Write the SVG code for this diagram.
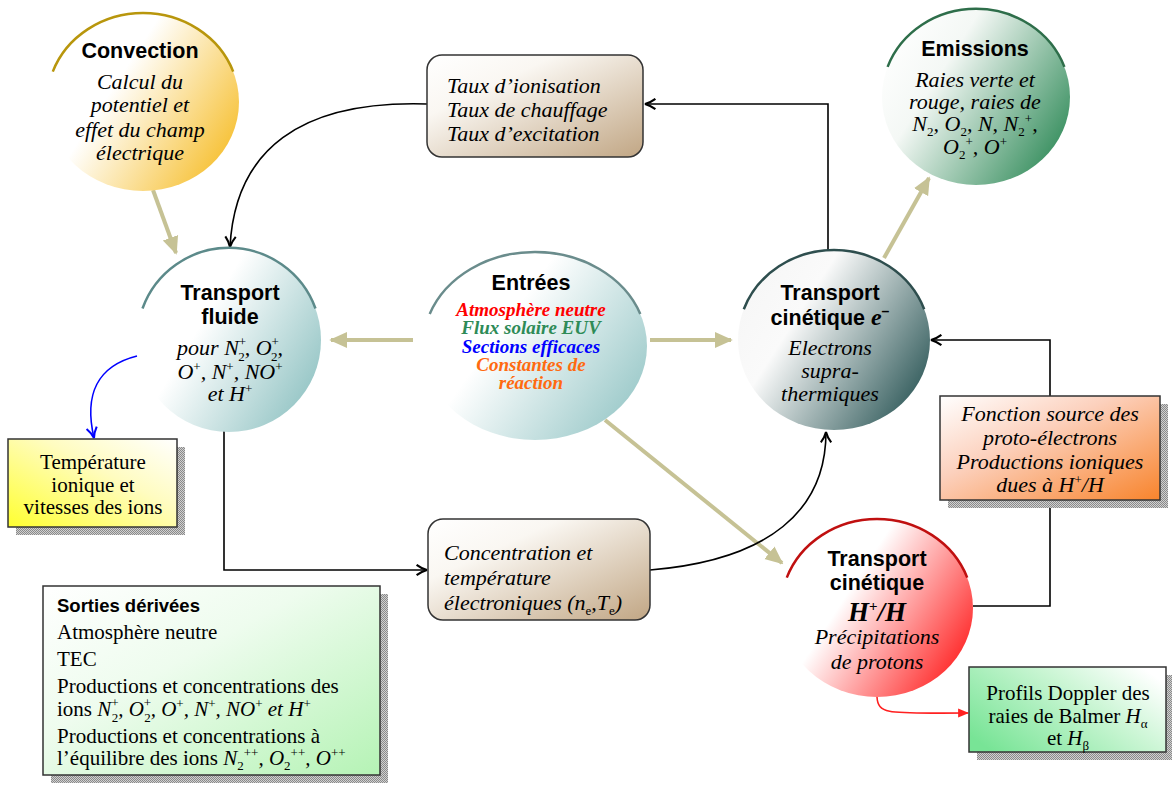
<svg xmlns="http://www.w3.org/2000/svg" width="1172" height="785" viewBox="0 0 1172 785">
<style>
.h{font-family:"Liberation Sans",Arial,sans-serif;font-weight:bold;font-size:21.5px;text-anchor:middle;fill:#000}
.it{font-family:"Liberation Serif","DejaVu Serif",serif;font-style:italic;font-size:22px;text-anchor:middle;fill:#000}
.itl{font-family:"Liberation Serif","DejaVu Serif",serif;font-style:italic;font-size:22px;fill:#000}
.rm{font-family:"Liberation Serif","DejaVu Serif",serif;font-size:21px;text-anchor:middle;fill:#000}
.rml{font-family:"Liberation Serif","DejaVu Serif",serif;font-size:21px;fill:#000}
.en{font-family:"Liberation Serif","DejaVu Serif",serif;font-style:italic;font-weight:bold;font-size:19px;text-anchor:middle}
.sp{font-size:13px;font-style:normal}
.sb{font-size:13px;font-style:normal}
.box{stroke:#333;stroke-width:1.5}
.k{fill:none;stroke:#c6c295;stroke-width:4}
.b{fill:none;stroke:#000;stroke-width:1.6}
</style>
<defs>
<pattern id="shade" width="2" height="2" patternUnits="userSpaceOnUse"><rect width="2" height="2" fill="#d0d0d0"/><rect width="1" height="1" fill="#8a8a8a"/><rect x="1" y="1" width="1" height="1" fill="#8a8a8a"/></pattern>
<linearGradient id="gConv" x1="0" y1="0.2" x2="1" y2="0.8"><stop offset="0" stop-color="#fff"/><stop offset="0.35" stop-color="#fff"/><stop offset="1" stop-color="#f6bd28"/></linearGradient>
<linearGradient id="gEmi" x1="0" y1="0.2" x2="1" y2="0.8"><stop offset="0" stop-color="#fff"/><stop offset="0.3" stop-color="#f4f8f5"/><stop offset="1" stop-color="#2f8a58"/></linearGradient>
<linearGradient id="gFl" x1="0" y1="0.2" x2="1" y2="0.8"><stop offset="0" stop-color="#fff"/><stop offset="0.35" stop-color="#fff"/><stop offset="1" stop-color="#8fc2c2"/></linearGradient>
<linearGradient id="gEn" x1="0" y1="0.2" x2="1" y2="0.8"><stop offset="0" stop-color="#fff"/><stop offset="0.35" stop-color="#fff"/><stop offset="1" stop-color="#97c7c7"/></linearGradient>
<linearGradient id="gE" x1="0" y1="0.2" x2="1" y2="0.8"><stop offset="0" stop-color="#f6f6f6"/><stop offset="0.3" stop-color="#fafafa"/><stop offset="1" stop-color="#2b5656"/></linearGradient>
<linearGradient id="gH" x1="0" y1="0.2" x2="1" y2="0.8"><stop offset="0" stop-color="#fff"/><stop offset="0.35" stop-color="#fff"/><stop offset="1" stop-color="#ff1c1c"/></linearGradient>
<linearGradient id="gTan" x1="0" y1="0" x2="1" y2="1"><stop offset="0" stop-color="#fff"/><stop offset="0.3" stop-color="#faf7f2"/><stop offset="1" stop-color="#c1a684"/></linearGradient>
<linearGradient id="gOr" x1="0" y1="0" x2="1" y2="1"><stop offset="0" stop-color="#fff"/><stop offset="0.4" stop-color="#fcd0bc"/><stop offset="1" stop-color="#f8842c"/></linearGradient>
<linearGradient id="gYe" x1="0" y1="1" x2="1" y2="0"><stop offset="0" stop-color="#ffff30"/><stop offset="0.6" stop-color="#fffcc0"/><stop offset="1" stop-color="#fff"/></linearGradient>
<linearGradient id="gGr" x1="0" y1="0" x2="1" y2="1"><stop offset="0" stop-color="#fff"/><stop offset="0.4" stop-color="#eefcee"/><stop offset="1" stop-color="#b5f3b5"/></linearGradient>
<linearGradient id="gPr" x1="0" y1="0.8" x2="1" y2="0.2"><stop offset="0" stop-color="#78e496"/><stop offset="0.6" stop-color="#c8f5d2"/><stop offset="1" stop-color="#fff"/></linearGradient>
<marker id="mk" viewBox="0 0 10 10" refX="9" refY="5" markerWidth="18" markerHeight="18" markerUnits="userSpaceOnUse" orient="auto"><path d="M0,0.5 L10,5 L0,9.5 Z" fill="#c6c295"/></marker>
<marker id="mb" viewBox="0 0 10 10" refX="9" refY="5" markerWidth="13" markerHeight="13" markerUnits="userSpaceOnUse" orient="auto"><path d="M1,1 Q5,4 9,5 Q5,6 1,9" fill="none" stroke="#000" stroke-width="1.6"/></marker>
<marker id="mbl" viewBox="0 0 10 10" refX="9" refY="5" markerWidth="13" markerHeight="13" markerUnits="userSpaceOnUse" orient="auto"><path d="M1,1 Q5,4 9,5 Q5,6 1,9" fill="none" stroke="#0000ff" stroke-width="1.6"/></marker>
<marker id="mr" viewBox="0 0 10 10" refX="9" refY="5" markerWidth="11" markerHeight="11" markerUnits="userSpaceOnUse" orient="auto"><path d="M0,1 L10,5 L0,9 Z" fill="#ff2020"/></marker>
</defs>
<rect width="1172" height="785" fill="#fff"/>

<g id="connectors">
<line class="k" x1="153" y1="190" x2="176" y2="253" marker-end="url(#mk)"/>
<line class="k" x1="884" y1="258" x2="929" y2="178" marker-end="url(#mk)"/>
<line class="k" x1="413" y1="340" x2="331" y2="340" marker-end="url(#mk)"/>
<line class="k" x1="650" y1="340" x2="731" y2="340" marker-end="url(#mk)"/>
<line class="k" x1="605" y1="420" x2="782" y2="563" marker-end="url(#mk)"/>
<path class="b" d="M427,104 C300,100 235,150 230,247" marker-end="url(#mb)"/>
<path class="b" d="M828,250 L828,104 L645,104" marker-end="url(#mb)"/>
<path class="b" d="M224,431 L224,570 L427,570" marker-end="url(#mb)"/>
<path class="b" d="M650,570 C770,560 826,510 826,432" marker-end="url(#mb)"/>
<path class="b" d="M973,606 L1050,606 L1050,340 L931,340" marker-end="url(#mb)"/>
<path fill="none" stroke="#0000ff" stroke-width="1.6" d="M137,356 C97,366 84,395 94,438" marker-end="url(#mbl)"/>
<path fill="none" stroke="#ff2020" stroke-width="1.6" d="M877,697 C878,716 892,713 968,713" marker-end="url(#mr)"/>
</g>

<g id="convection">
<ellipse cx="143" cy="102" rx="96" ry="89" fill="url(#gConv)"/>
<path d="M52.8,71.6 A96,89 0 0 1 233.2,71.6" fill="none" stroke="#b8960c" stroke-width="2.5"/>
<text class="h" x="140" y="58">Convection</text>
<text class="it" x="140" y="89">Calcul du</text>
<text class="it" x="140" y="112">potentiel et</text>
<text class="it" x="140" y="137">effet du champ</text>
<text class="it" x="140" y="160">électrique</text>
</g>

<g id="emissions">
<ellipse cx="976" cy="97" rx="94" ry="88" fill="url(#gEmi)"/>
<path d="M887.6,66.9 A94,88 0 0 1 1064.4,66.9" fill="none" stroke="#2e6e4a" stroke-width="2.5"/>
<text class="h" x="975" y="56">Emissions</text>
<text class="it" x="975" y="87">Raies verte et</text>
<text class="it" x="975" y="109">rouge, raies de</text>
<text class="it" x="975" y="131">N<tspan class="sb" baseline-shift="-5">2</tspan>, O<tspan class="sb" baseline-shift="-5">2</tspan>, N, N<tspan class="sb" baseline-shift="-5">2</tspan><tspan class="sp" baseline-shift="8">+</tspan>,</text>
<text class="it" x="975" y="154">O<tspan class="sb" baseline-shift="-5">2</tspan><tspan class="sp" baseline-shift="8">+</tspan>, O<tspan class="sp" baseline-shift="8">+</tspan></text>
</g>

<g id="taux">
<rect class="box" x="427" y="55" width="216" height="102" rx="15" fill="url(#gTan)"/>
<text class="itl" x="447" y="93">Taux d’ionisation</text>
<text class="itl" x="447" y="117">Taux de chauffage</text>
<text class="itl" x="447" y="141">Taux d’excitation</text>
</g>

<g id="transport-fluide">
<ellipse cx="229" cy="340" rx="92" ry="92" fill="url(#gFl)"/>
<path d="M142.5,308.5 A92,92 0 0 1 315.5,308.5" fill="none" stroke="#5c8a8a" stroke-width="2.5"/>
<text class="h" x="230" y="300">Transport</text>
<text class="h" x="230" y="324">fluide</text>
<text class="it" x="230" y="355">pour N<tspan class="sp" baseline-shift="9">+</tspan><tspan class="sb" dx="-8" baseline-shift="-6">2</tspan>, O<tspan class="sp" baseline-shift="9">+</tspan><tspan class="sb" dx="-8" baseline-shift="-6">2</tspan>,</text>
<text class="it" x="230" y="379">O<tspan class="sp" baseline-shift="8">+</tspan>, N<tspan class="sp" baseline-shift="8">+</tspan>, NO<tspan class="sp" baseline-shift="8">+</tspan></text>
<text class="it" x="230" y="401">et H<tspan class="sp" baseline-shift="8">+</tspan></text>
</g>

<g id="entrees">
<ellipse cx="535" cy="346" rx="112" ry="94" fill="url(#gEn)"/>
<path d="M429.7,313.9 A112,94 0 0 1 640.3,313.9" fill="none" stroke="#6a8c8c" stroke-width="2.5"/>
<text class="h" x="531" y="290">Entrées</text>
<text class="en" x="531" y="316" fill="#ff0000">Atmosphère neutre</text>
<text class="en" x="531" y="334" fill="#2e8b57">Flux solaire EUV</text>
<text class="en" x="531" y="353" fill="#0000ff">Sections efficaces</text>
<text class="en" x="531" y="371" fill="#ff6a10">Constantes de</text>
<text class="en" x="531" y="389" fill="#ff6a10">réaction</text>
</g>

<g id="transport-electrons">
<ellipse cx="834" cy="340" rx="96" ry="90" fill="url(#gE)"/>
<path d="M743.8,309.2 A96,90 0 0 1 924.2,309.2" fill="none" stroke="#2e4e4e" stroke-width="2.5"/>
<text class="h" x="830" y="300">Transport</text>
<text class="h" x="830" y="325">cinétique <tspan font-family="Liberation Serif,serif" font-style="italic" font-size="24">e</tspan><tspan font-size="14" baseline-shift="9">–</tspan></text>
<text class="it" x="830" y="355">Electrons</text>
<text class="it" x="830" y="378">supra-</text>
<text class="it" x="830" y="401">thermiques</text>
</g>

<g id="temperature">
<rect x="16" y="447" width="169" height="88" fill="url(#shade)"/>
<rect class="box" x="8" y="439" width="169" height="88" fill="url(#gYe)"/>
<text class="rm" x="93" y="469">Température</text>
<text class="rm" x="93" y="492">ionique et</text>
<text class="rm" x="93" y="514">vitesses des ions</text>
</g>

<g id="fonction-source">
<rect x="948" y="404" width="220" height="104" fill="url(#shade)"/>
<rect class="box" x="940" y="396" width="220" height="104" fill="url(#gOr)"/>
<text class="it" x="1050" y="421" font-size="21">Fonction source des</text>
<text class="it" x="1050" y="445" font-size="21">proto-électrons</text>
<text class="it" x="1050" y="469" font-size="21">Productions ioniques</text>
<text class="it" x="1050" y="492" font-size="21">dues à H<tspan class="sp" baseline-shift="8">+</tspan>/H</text>
</g>

<g id="concentration">
<rect class="box" x="428" y="519" width="222" height="101" rx="15" fill="url(#gTan)"/>
<text class="itl" x="444" y="560">Concentration et</text>
<text class="itl" x="444" y="585">température</text>
<text class="itl" x="444" y="610">électroniques (n<tspan class="sb" baseline-shift="-5">e</tspan>,T<tspan class="sb" baseline-shift="-5">e</tspan>)</text>
</g>

<g id="transport-h">
<ellipse cx="877" cy="608" rx="96" ry="89" fill="url(#gH)"/>
<path d="M786.8,577.6 A96,89 0 0 1 967.2,577.6" fill="none" stroke="#c01010" stroke-width="2.5"/>
<text class="h" x="877" y="566">Transport</text>
<text class="h" x="877" y="590">cinétique</text>
<text x="877" y="621" font-family="Liberation Serif,serif" font-weight="bold" font-style="italic" font-size="27" text-anchor="middle">H<tspan font-size="15" font-style="normal" baseline-shift="10">+</tspan>/H</text>
<text class="it" x="877" y="644">Précipitations</text>
<text class="it" x="877" y="669">de protons</text>
</g>

<g id="sorties">
<rect x="51" y="594" width="337" height="189" fill="url(#shade)"/>
<rect class="box" x="43" y="586" width="337" height="189" fill="url(#gGr)"/>
<text x="57" y="612" font-family="Liberation Sans,Arial,sans-serif" font-weight="bold" font-size="18.5">Sorties dérivées</text>
<text class="rml" x="57" y="639">Atmosphère neutre</text>
<text class="rml" x="57" y="666">TEC</text>
<text class="rml" x="57" y="693">Productions et concentrations des</text>
<text class="rml" x="57" y="716">ions <tspan font-style="italic">N<tspan class="sp" baseline-shift="9">+</tspan><tspan class="sb" dx="-7" baseline-shift="-6">2</tspan>, O<tspan class="sp" baseline-shift="9">+</tspan><tspan class="sb" dx="-7" baseline-shift="-6">2</tspan>, O<tspan class="sp" baseline-shift="8">+</tspan>, N<tspan class="sp" baseline-shift="8">+</tspan>, NO<tspan class="sp" baseline-shift="8">+</tspan> et H<tspan class="sp" baseline-shift="8">+</tspan></tspan></text>
<text class="rml" x="57" y="743">Productions et concentrations à</text>
<text class="rml" x="57" y="765">l’équilibre des ions <tspan font-style="italic">N<tspan class="sb" baseline-shift="-5">2</tspan><tspan class="sp" baseline-shift="8">++</tspan>, O<tspan class="sb" baseline-shift="-5">2</tspan><tspan class="sp" baseline-shift="8">++</tspan>, O<tspan class="sp" baseline-shift="8">++</tspan></tspan></text>
</g>

<g id="profils">
<rect x="977" y="675" width="197" height="85" fill="url(#shade)"/>
<rect class="box" x="969" y="667" width="197" height="85" fill="url(#gPr)"/>
<text class="rm" x="1068" y="700">Profils Doppler des</text>
<text class="rm" x="1068" y="723">raies de Balmer <tspan font-style="italic">H<tspan class="sb" baseline-shift="-5">α</tspan></tspan></text>
<text class="rm" x="1068" y="745">et <tspan font-style="italic">H<tspan class="sb" baseline-shift="-5">β</tspan></tspan></text>
</g>
</svg>
